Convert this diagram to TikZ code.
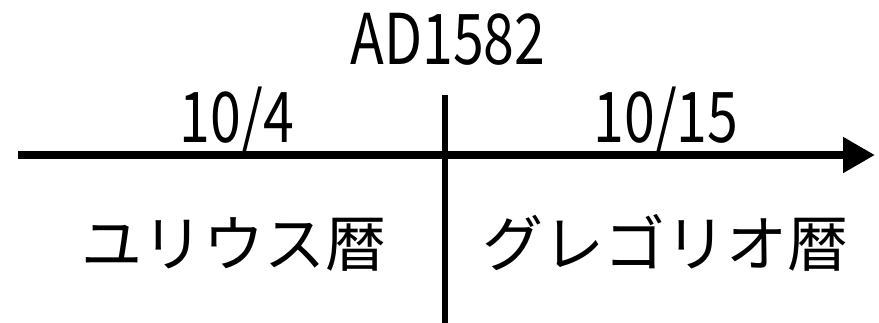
\documentclass[tikz,border=0pt]{standalone}
\usepackage{fontspec}
\setmainfont{Noto Sans CJK JP}
\usetikzlibrary{arrows.meta}
\tikzset{
  lat/.style={anchor=base, inner sep=0pt, font=\fontsize{66}{70}\selectfont},
  jp/.style={anchor=base, inner sep=0pt, font=\fontsize{61}{66}\selectfont},
  axis/.style={line width=8pt, -{Triangle[length=32pt,width=34pt]}},
  divider/.style={line width=6.5pt}
}
\newcommand{\narrow}[1]{\scalebox{0.84}[1.06]{#1}}
\begin{document}
\begin{tikzpicture}[x=1pt,y=-1pt]
\useasboundingbox (0,0) rectangle (879,322);
\coordinate (s) at (18,155);
\coordinate (e) at (875,155);
\coordinate (vt) at (445,95);
\coordinate (vb) at (445,325);
\draw[divider] (vt) -- (vb);
\draw[axis] (s) -- (e);
\node[lat] (ad) at (448,64) {\narrow{AD1582}};
\node[lat] (d1) at (237,142) {\narrow{10/4}};
\node[lat] (d2) at (666,142) {\narrow{10/15}};
\node[jp] (ju) at (234,266) {ユリウス暦};
\node[jp] (gr) at (665,266) {グレゴリオ暦};
\end{tikzpicture}
\end{document}
